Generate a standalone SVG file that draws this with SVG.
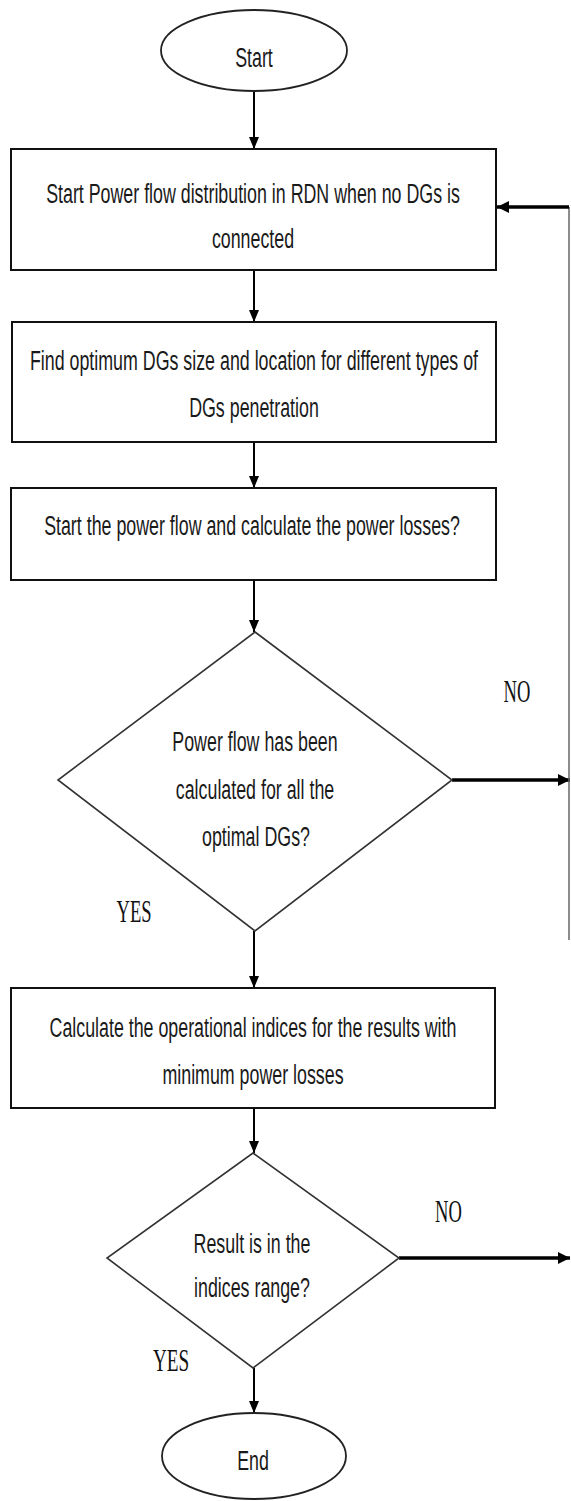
<svg xmlns="http://www.w3.org/2000/svg" width="571" height="1501" viewBox="0 0 571 1501">
<style>
.bg{fill:#fff}
.box{fill:#fff;stroke:#111;stroke-width:2}
.term{fill:#fff;stroke:#222;stroke-width:1.8}
.dia{fill:#fff;stroke:#333;stroke-width:1.6}
.t{font-family:"Liberation Sans",Arial,sans-serif;font-size:27px;fill:#1a1a1a;text-anchor:middle}
.lbl{font-family:"Liberation Serif","Times New Roman",serif;font-size:32px;fill:#111;text-anchor:middle}
.c{fill:none;stroke:#000;stroke-width:2}
.thick{fill:none;stroke:#000;stroke-width:3.5}
.thin{fill:none;stroke:#666;stroke-width:1.5}
</style>
<defs>
<marker id="ah" viewBox="0 0 12 10" refX="12" refY="5" markerWidth="12" markerHeight="10" markerUnits="userSpaceOnUse" orient="auto">
<path d="M0,0 L12,5 L0,10 z" fill="#000"/>
</marker>
<marker id="ahb" viewBox="0 0 12 12" refX="12" refY="6" markerWidth="12" markerHeight="12" markerUnits="userSpaceOnUse" orient="auto">
<path d="M0,0 L12,6 L0,12 z" fill="#000"/>
</marker>
</defs>
<rect class="bg" x="0" y="0" width="571" height="1501"/>
<g id="connectors">
<path class="c" d="M254,91 V149" marker-end="url(#ah)"/>
<path class="c" d="M254,270 V322" marker-end="url(#ah)"/>
<path class="c" d="M254,442 V488" marker-end="url(#ah)"/>
<path class="c" d="M254,580 V632" marker-end="url(#ah)"/>
<path class="c" d="M254,931 V988" marker-end="url(#ah)"/>
<path class="c" d="M254,1108 V1153" marker-end="url(#ah)"/>
<path class="c" d="M254,1368 V1413" marker-end="url(#ah)"/>
<path class="thick" d="M452,780 H570" marker-end="url(#ahb)"/>
<path class="thick" d="M399,1258 H570" marker-end="url(#ahb)"/>
<path class="thin" d="M569,940 V207"/>
<path class="thick" d="M569,207 H497" marker-end="url(#ahb)"/>
<text class="lbl" transform="translate(517,702) scale(0.58,1)">NO</text>
<text class="lbl" transform="translate(134,922) scale(0.58,1)">YES</text>
<text class="lbl" transform="translate(448.5,1222) scale(0.58,1)">NO</text>
<text class="lbl" transform="translate(171,1371) scale(0.6,1)">YES</text>
</g>
<g id="start">
<ellipse class="term" cx="254" cy="50.5" rx="93" ry="40.5"/>
<text class="t" transform="translate(254,67) scale(0.66,1)">Start</text>
</g>
<g id="box1">
<rect class="box" x="11" y="149" width="485" height="121"/>
<text class="t" transform="translate(253,203) scale(0.66,1)">Start Power flow distribution in RDN when no DGs is</text>
<text class="t" transform="translate(253,248) scale(0.66,1)">connected</text>
</g>
<g id="box2">
<rect class="box" x="12" y="322" width="484" height="120"/>
<text class="t" transform="translate(254,370) scale(0.66,1)">Find optimum DGs size and location for different types of</text>
<text class="t" transform="translate(254,417) scale(0.66,1)">DGs penetration</text>
</g>
<g id="box3">
<rect class="box" x="11" y="488" width="485" height="92"/>
<text class="t" transform="translate(252,535) scale(0.66,1)">Start the power flow and calculate the power losses?</text>
</g>
<g id="decision1">
<polygon class="dia" points="255,632 452,780 255,931 58,780"/>
<text class="t" transform="translate(255,751) scale(0.66,1)">Power flow has been</text>
<text class="t" transform="translate(255,799) scale(0.66,1)">calculated for all the</text>
<text class="t" transform="translate(256,846) scale(0.66,1)">optimal DGs?</text>
</g>
<g id="box4">
<rect class="box" x="11" y="988" width="484" height="120"/>
<text class="t" transform="translate(253,1037) scale(0.66,1)">Calculate the operational indices for the results with</text>
<text class="t" transform="translate(253,1084) scale(0.66,1)">minimum power losses</text>
</g>
<g id="decision2">
<polygon class="dia" points="253,1153 399,1258 253,1368 107,1258"/>
<text class="t" transform="translate(252,1253) scale(0.66,1)">Result is in the</text>
<text class="t" transform="translate(252,1297) scale(0.66,1)">indices range?</text>
</g>
<g id="end">
<ellipse class="term" cx="254" cy="1456" rx="92" ry="43"/>
<text class="t" transform="translate(253,1470) scale(0.66,1)">End</text>
</g>
</svg>
